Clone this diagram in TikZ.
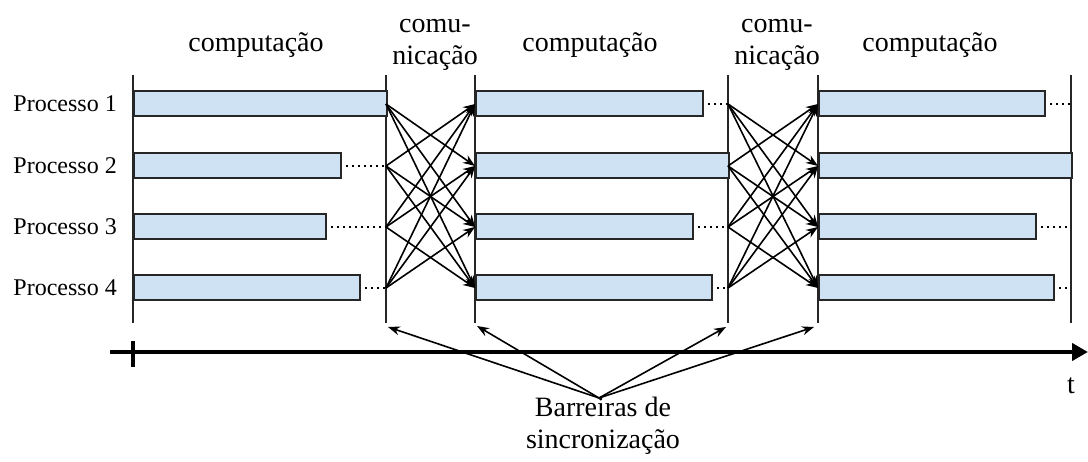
\documentclass[tikz,border=0pt]{standalone}
\usepackage{fontspec}
\setmainfont{Liberation Serif}
\usetikzlibrary{arrows.meta}
\definecolor{barblue}{HTML}{CFE2F3}
\begin{document}
\begin{tikzpicture}[x=1pt,y=-1pt,
  bar/.style={draw=black!85, line width=2pt, fill=barblue, inner sep=0pt,
              minimum height=25pt, anchor=west},
  barrier/.style={line width=1.8pt, black!85},
  wait/.style={line width=1.6pt, dash pattern=on 1.6pt off 4.4pt},
  msg/.style={line width=1.6pt, -{Stealth[length=12pt,width=9pt]}},
  pointer/.style={line width=1.6pt, -{Stealth[length=12pt,width=9pt]}},
  lbl/.style={font=\fontsize{28}{32}\selectfont, align=center, inner sep=0pt},
  plbl/.style={font=\fontsize{24}{28}\selectfont, anchor=east, inner sep=0pt}]
\useasboundingbox (0,0) rectangle (1088,462);

% phase boundaries (vertical lines)
\foreach \n/\x in {s1/133, b1/386, e1/475, b2/728, e2/818, b3/1071} {
  \coordinate (\n top) at (\x,75);
  \coordinate (\n bot) at (\x,323);
  \draw[barrier] (\n top) -- (\n bot);
}

% process labels
\foreach \i/\y in {1/104, 2/166, 3/227, 4/288}
  \node[plbl] (p\i) at (117,\y) {Processo \i};

% computation bars: phase / process / start / end / row
\foreach \k/\i/\s/\e/\y in {
  1/1/133/386/104, 1/2/133/340/166, 1/3/133/325/227, 1/4/133/359/288,
  2/1/475/702/104, 2/2/475/728/166, 2/3/475/692/227, 2/4/475/711/288,
  3/1/818/1044/104, 3/2/818/1071/166, 3/3/818/1035/227, 3/4/818/1053/288} {
  \pgfmathsetmacro{\w}{\e-\s}
  \node[bar, minimum width=\w pt] (c\k\i) at (\s,\y) {};
}

% barrier attachment points
\foreach \i/\y in {1/104, 2/166, 3/227, 4/288} {
  \coordinate (L1\i) at (386,\y);
  \coordinate (R1\i) at (475,\y);
  \coordinate (L2\i) at (728,\y);
  \coordinate (R2\i) at (818,\y);
  \coordinate (L3\i) at (1071,\y);
}

% idle time up to the barrier
\foreach \k/\i in {1/2, 1/3, 1/4, 2/1, 2/3, 2/4, 3/1, 3/3, 3/4}
  \draw[wait] ([xshift=4pt]c\k\i.east) -- (L\k\i);

% all-to-all communication
\foreach \k in {1,2}
  \foreach \i in {1,...,4}
    \foreach \j in {1,...,4} {
      \ifnum\i=\j\relax\else
        \draw[msg] (L\k\i) -- (R\k\j);
      \fi
    }

% time axis
\coordinate (t0) at (110,352);
\coordinate (t1) at (1088,352);
\draw[line width=4.5pt, -{Triangle[length=16pt,width=17pt]}] (t0) -- (t1);
\coordinate (tk1) at (133,341);
\coordinate (tk2) at (133,367);
\draw[line width=3.5pt] (tk1) -- (tk2);
\node[lbl] (tlab) at (1071,386) {t};

% phase titles
\node[lbl] (comp1) at (256,45) {computação};
\node[lbl] (comp2) at (590,45) {computação};
\node[lbl] (comp3) at (930,45) {computação};
\node[lbl] (comm1) at (435,45) {comu-\\nicação};
\node[lbl] (comm2) at (777,45) {comu-\\nicação};

% barrier legend
\node[lbl] (sync) at (603,426) {Barreiras de\\sincronização};
\coordinate (hub) at (599,398);
\coordinate (a1) at (388,327);
\coordinate (a2) at (477,326);
\coordinate (a3) at (726,327);
\coordinate (a4) at (814,327);
\foreach \n in {a1,a2,a3,a4}
  \draw[pointer] (hub) -- (\n);
\end{tikzpicture}
\end{document}
